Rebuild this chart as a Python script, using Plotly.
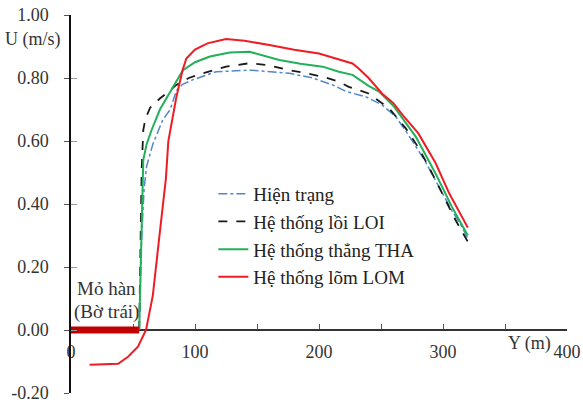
import plotly.graph_objects as go

# Hiện trạng
ht_y = [55, 57, 59, 61, 66, 74, 80, 85, 90, 98, 117, 145, 176, 195, 211, 222, 238, 251, 262, 272, 285, 297, 307, 315, 320]
ht_u = [0, 0.30, 0.45, 0.52, 0.59, 0.667, 0.70, 0.76, 0.78, 0.794, 0.82, 0.825, 0.815, 0.80, 0.778, 0.757, 0.74, 0.714, 0.677, 0.62, 0.54, 0.455, 0.38, 0.33, 0.29]

# Hệ thống lồi LOI
loi_y = [55, 56, 57, 58.3, 60, 63.7, 71.7, 78, 85, 95, 106.5, 125, 144, 160, 176, 190, 203, 215, 224, 240, 256.5, 270, 280, 288.6, 302, 310, 320]
loi_u = [0, 0.30, 0.51, 0.635, 0.67, 0.705, 0.735, 0.755, 0.778, 0.80, 0.815, 0.836, 0.847, 0.84, 0.825, 0.815, 0.804, 0.79, 0.772, 0.751, 0.704, 0.64, 0.58, 0.518, 0.413, 0.35, 0.28]

# Hệ thống thẳng THA
tha_y = [55, 57, 58.3, 61, 65, 71.7, 79.8, 85, 90.3, 100, 112, 128, 144, 168, 185, 203, 216, 227, 240, 248.4, 260.5, 278, 294, 307.3, 320]
tha_u = [0, 0.35, 0.54, 0.59, 0.635, 0.70, 0.757, 0.79, 0.825, 0.85, 0.868, 0.881, 0.883, 0.857, 0.845, 0.836, 0.82, 0.81, 0.775, 0.757, 0.709, 0.614, 0.497, 0.39, 0.30]

# Hệ thống lõm LOM
lom_y = [15, 38, 46, 54, 60.5, 66, 70.5, 74, 76.5, 78.5, 82, 85, 90, 93, 100, 110, 125, 140, 160, 180, 200, 215, 227, 232, 240, 251, 260, 268, 280, 294, 305, 320]
lom_u = [-0.11, -0.107, -0.085, -0.053, 0, 0.11, 0.27, 0.40, 0.48, 0.60, 0.67, 0.74, 0.825, 0.862, 0.89, 0.91, 0.924, 0.918, 0.905, 0.89, 0.878, 0.86, 0.846, 0.83, 0.80, 0.75, 0.72, 0.68, 0.625, 0.53, 0.434, 0.325]

# Mỏ hàn (groyne) extent
dam_y = [0, 55]
dam_u = [0, 0]

x_tickvals = [0, 50, 100, 150, 200, 250, 300, 350, 400]
x_ticktext = ["0", "", "100", "", "200", "", "300", "", "400"]
y_tickvals = [-0.2, 0.0, 0.2, 0.4, 0.6, 0.8, 1.0]
y_ticktext = ["-0.20", "0.00", "0.20", "0.40", "0.60", "0.80", "1.00"]

FONT = "Liberation Serif"
TXT = "#333333"

fig = go.Figure()
fig.add_trace(go.Scatter(x=ht_y, y=ht_u, mode="lines", name="Hiện trạng",
                         line=dict(color="#5088c8", width=1.5, dash="dashdot")))
fig.add_trace(go.Scatter(x=loi_y, y=loi_u, mode="lines", name="Hệ thống lồi LOI",
                         line=dict(color="#1a1a1a", width=1.8, dash="dash")))
fig.add_trace(go.Scatter(x=tha_y, y=tha_u, mode="lines", name="Hệ thống thẳng THA",
                         line=dict(color="#22b05a", width=2)))
fig.add_trace(go.Scatter(x=lom_y, y=lom_u, mode="lines", name="Hệ thống lõm LOM",
                         line=dict(color="#f01c24", width=2)))
fig.add_trace(go.Scatter(x=dam_y, y=dam_u, mode="lines", showlegend=False,
                         line=dict(color="#c00000", width=7)))
# invisible trace for overlaying y-axis (inside ticks)
fig.add_trace(go.Scatter(x=[0], y=[0], yaxis="y2", mode="lines", showlegend=False,
                         hoverinfo="skip", line=dict(width=0)))

fig.update_layout(
    width=583, height=404,
    margin=dict(l=71, r=16, t=15, b=11, autoexpand=False),
    paper_bgcolor="white", plot_bgcolor="white",
    font=dict(family=FONT, size=18, color=TXT),
    showlegend=True,
    legend=dict(x=0.287, y=0.577, xanchor="left", yanchor="top",
                bgcolor="rgba(0,0,0,0)", font=dict(size=19, family=FONT, color="#222"),
                itemwidth=30),
    xaxis=dict(range=[0, 400], tickvals=x_tickvals, ticktext=x_ticktext, automargin=False,
               showgrid=False, zeroline=False, showline=True, linecolor="#333", linewidth=1.5,
               ticks="inside", ticklen=5, tickcolor="#555", anchor="free", position=0.2/1.2,
               layer="below traces",
               ticklabelstandoff=6, tickfont=dict(size=18, family=FONT)),
    yaxis=dict(range=[-0.2, 1.0], tickvals=y_tickvals, ticktext=y_ticktext, automargin=False,
               showgrid=False, zeroline=False, showline=True, linecolor="#111", linewidth=1.5,
               ticks="outside", ticklen=5, tickcolor="#555", ticklabelstandoff=12,
               tickfont=dict(size=18, family=FONT)),
    yaxis2=dict(range=[-0.2, 1.0], tickvals=y_tickvals, overlaying="y", side="left",
                anchor="x", showgrid=False, zeroline=False, showline=False, automargin=False,
                ticks="inside", ticklen=6, tickcolor="#999", showticklabels=False),
)

fig.add_annotation(x=29, y=0.133, text="Mỏ hàn", showarrow=False,
                   xanchor="center", yanchor="middle",
                   font=dict(size=19, family=FONT, color=TXT))
fig.add_annotation(x=29, y=0.058, text="(Bờ trái)", showarrow=False,
                   xanchor="center", yanchor="middle",
                   font=dict(size=19, family=FONT, color=TXT))
fig.add_annotation(xref="paper", yref="paper", x=-0.076, y=0.934, text="U (m/s)",
                   xanchor="center", yanchor="middle",
                   showarrow=False, font=dict(size=18, family=FONT, color=TXT))
fig.add_annotation(xref="paper", yref="paper", x=0.925, y=0.132, text="Y (m)",
                   xanchor="center", yanchor="middle",
                   showarrow=False, font=dict(size=18, family=FONT, color=TXT))

fig.write_html("out.html")
